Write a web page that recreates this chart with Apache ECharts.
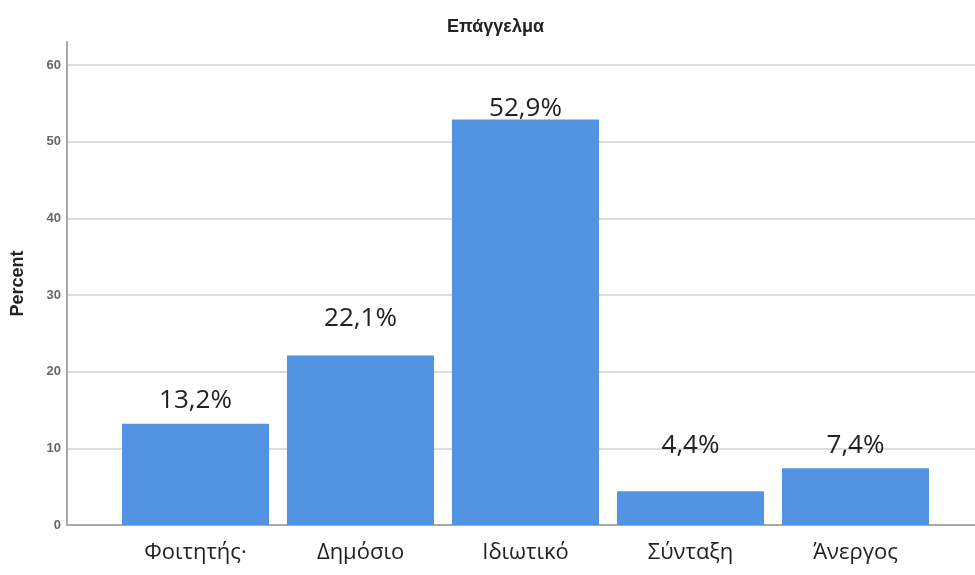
<!DOCTYPE html>
<html>
<head>
<meta charset="utf-8">
<script src="https://cdn.jsdelivr.net/npm/echarts@6/dist/echarts.min.js"></script>
<style>html,body{margin:0;padding:0;background:#fff}#c{width:975px;height:575px}</style>
</head>
<body>
<div id="c"></div>
<script>
var categories = ['Φοιτητής·', 'Δημόσιο', 'Ιδιωτικό', 'Σύνταξη', 'Άνεργος'];
var percentValues = [13.2, 22.1, 52.9, 4.4, 7.4];
var labelTexts = ['13,2%', '22,1%', '52,9%', '4,4%', '7,4%'];
var labelDistances = [9, 23, -3, 32, 9];

var chart = echarts.init(document.getElementById('c'));
var barData = percentValues.map(function (v, i) {
  return { value: v, label: { distance: labelDistances[i] } };
});
chart.setOption({
  backgroundColor: '#ffffff',
  animation: false,
  title: {
    text: 'Επάγγελμα',
    left: 442,
    top: 13,
    textStyle: { fontFamily: 'Liberation Sans', fontWeight: 'bold', fontSize: 18, color: '#222' }
  },
  grid: [
    { left: 67, right: 0, top: 42, bottom: 50 },
    { left: 113, right: 37, top: 42, bottom: 50 }
  ],
  xAxis: [
    {
      gridIndex: 0, type: 'value', min: 0, max: 1,
      axisLine: { show: true, lineStyle: { color: '#a8a8a8', width: 2 } },
      axisTick: { show: false }, axisLabel: { show: false }, splitLine: { show: false }
    },
    {
      gridIndex: 1, type: 'category', data: categories,
      axisLine: { show: false }, axisTick: { show: false },
      axisLabel: { fontFamily: 'Open Sans', fontSize: 22, color: '#222', margin: 17 }
    }
  ],
  yAxis: [
    {
      gridIndex: 0, type: 'value', min: 0, max: 63, interval: 10,
      name: 'Percent', nameLocation: 'middle', nameGap: 40,
      nameTextStyle: { fontFamily: 'Liberation Sans', fontWeight: 'bold', fontSize: 18, color: '#222' },
      axisLine: { show: true, lineStyle: { color: '#a8a8a8', width: 2 } },
      axisTick: { show: false },
      axisLabel: { fontFamily: 'Liberation Sans', fontWeight: 'bold', fontSize: 13, color: '#666', margin: 6, showMaxLabel: false },
      splitLine: { show: true, showMaxLine: false, lineStyle: { color: '#dcdcdc', width: 2 } }
    },
    {
      gridIndex: 1, type: 'value', min: 0, max: 63, interval: 10, show: false,
      splitLine: { show: false }
    }
  ],
  series: [{
    type: 'bar',
    xAxisIndex: 1, yAxisIndex: 1,
    data: barData,
    barWidth: 147,
    itemStyle: { color: '#5294e2' },
    label: {
      show: true, position: 'top',
      formatter: function (p) { return labelTexts[p.dataIndex]; },
      fontFamily: 'Open Sans', fontSize: 26, lineHeight: 28, color: '#222'
    }
  }]
});
</script>
</body>
</html>
